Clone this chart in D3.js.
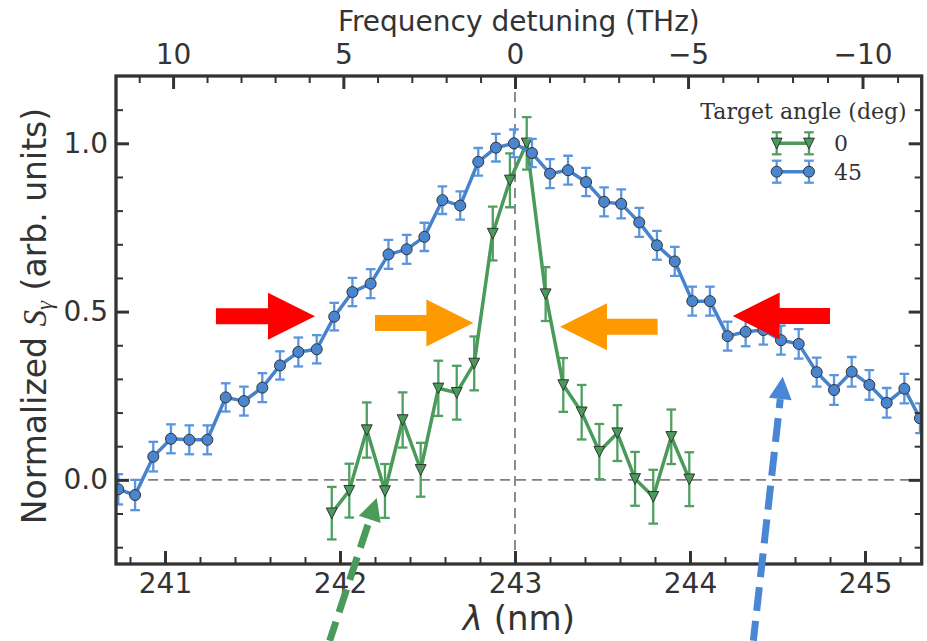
<!DOCTYPE html>
<html>
<head>
<meta charset="utf-8">
<script src="https://cdn.jsdelivr.net/npm/d3@7"></script>
<style>
  body { margin: 0; background: #fff; }
  svg { display: block; }
</style>
</head>
<body>
<svg id="chart" width="927" height="641"></svg>
<script>
// ---- data: normalized signal vs. wavelength for two target angles ----
const seriesLabels = ["0", "45"];
const legendTitle = "Target angle (deg)";

const wavelengthGreen = [241.953, 242.053, 242.153, 242.257, 242.358, 242.461, 242.562,
  242.667, 242.767, 242.873, 242.971, 243.067, 243.175, 243.276, 243.381, 243.482,
  243.585, 243.686, 243.790, 243.893, 243.996];
const signalGreen = [-0.099, -0.032, 0.148, -0.033, 0.178, 0.030, 0.272, 0.259, 0.346,
  0.732, 0.890, 1.000, 0.552, 0.282, 0.201, 0.084, 0.139, 0.003, -0.050, 0.128, 0.002];
const errGreen = [0.078, 0.080, 0.082, 0.080, 0.082, 0.080, 0.082, 0.080, 0.080, 0.080,
  0.080, 0.078, 0.080, 0.080, 0.081, 0.082, 0.083, 0.080, 0.080, 0.081, 0.080];

const wavelengthBlue = [240.733, 240.829, 240.933, 241.034, 241.139, 241.242, 241.347,
  241.451, 241.556, 241.657, 241.762, 241.867, 241.967, 242.071, 242.175, 242.277,
  242.381, 242.482, 242.585, 242.687, 242.790, 242.891, 242.994, 243.097, 243.200,
  243.303, 243.406, 243.509, 243.607, 243.710, 243.811, 243.913, 244.013, 244.114,
  244.215, 244.318, 244.419, 244.520, 244.621, 244.724, 244.823, 244.924, 245.025,
  245.124, 245.225, 245.314];
const signalBlue = [-0.028, -0.045, 0.069, 0.122, 0.119, 0.119, 0.245, 0.234, 0.274,
  0.340, 0.380, 0.388, 0.485, 0.558, 0.583, 0.670, 0.685, 0.722, 0.831, 0.815, 0.945,
  0.987, 1.000, 0.971, 0.910, 0.920, 0.885, 0.826, 0.820, 0.765, 0.697, 0.649, 0.531,
  0.531, 0.427, 0.440, 0.445, 0.415, 0.404, 0.320, 0.267, 0.321, 0.282, 0.229, 0.271,
  0.183];
const errBlue = [0.045, 0.045, 0.044, 0.043, 0.043, 0.043, 0.042, 0.043, 0.043, 0.042,
  0.043, 0.042, 0.041, 0.042, 0.043, 0.043, 0.043, 0.042, 0.041, 0.042, 0.041, 0.041,
  0.041, 0.042, 0.043, 0.043, 0.042, 0.043, 0.043, 0.043, 0.043, 0.043, 0.043, 0.043,
  0.043, 0.043, 0.043, 0.043, 0.044, 0.043, 0.044, 0.044, 0.044, 0.044, 0.044, 0.044];

// axis ticks
const lambdaTicks = [241, 242, 243, 244, 245];
const detuningTicks = [10, 5, 0, -5, -10];
const signalTicks = [0.0, 0.5, 1.0];

// annotation arrows, in data units (wavelength nm, signal)
const blockArrows = [
  { from: 241.291, to: 241.857, at: 0.486, kind: "wide" },
  { from: 242.200, to: 242.762, at: 0.466, kind: "narrow" },
  { from: 243.815, to: 243.257, at: 0.455, kind: "narrow" },
  { from: 244.800, to: 244.244, at: 0.487, kind: "wide" }
];
const pointerArrows = [
  { tail: [241.941, -0.478], tip: [242.210, -0.054], kind: "0" },
  { tail: [244.362, -0.478], tip: [244.530, 0.3065], kind: "45" }
];

// ---- layout / styles ----
const W = 927, H = 641;
const frame = { left: 116, right: 921.7, top: 76, bottom: 564 };
const ink = "#333";
const palette = {
  "0":  { line: "#4a9a5a", err: "#4f9f60", marker: "#4a9a5a" },
  "45": { line: "#4783cd", err: "#5a95dd", marker: "#4a86cf" }
};
const arrowColors = { wide: "#ff0000", narrow: "#ff9900" };
const pointerColors = { "0": "#4a9a5a", "45": "#4a86d6" };

const C = 299792.458;          // speed of light, nm*THz
const lambda0 = 243;           // reference wavelength for the detuning axis
const toLambda = df => C / (C / lambda0 + df);

const x = d3.scaleLinear().domain([240.72, 245.324]).range([frame.left, frame.right]);
const y = d3.scaleLinear().domain([-0.25, 1.2]).range([frame.bottom, frame.top]);

const svg = d3.select("#chart");
svg.append("rect").attr("width", W).attr("height", H).attr("fill", "#fff");

svg.append("defs").append("clipPath").attr("id", "plotArea")
  .append("rect")
  .attr("x", frame.left).attr("y", frame.top)
  .attr("width", frame.right - frame.left).attr("height", frame.bottom - frame.top);

// ---- dashed reference lines ----
const refs = svg.append("g").attr("stroke", "#808080").attr("stroke-width", 1.8)
  .attr("stroke-dasharray", "10,6");
refs.append("line").attr("x1", frame.left).attr("x2", frame.right)
  .attr("y1", y(0)).attr("y2", y(0));
refs.append("line").attr("x1", x(lambda0)).attr("x2", x(lambda0))
  .attr("y1", frame.top).attr("y2", frame.bottom);

// ---- series ----
const trianglePath = "M-5.4,-5.2 L5.4,-5.2 L0,5.6 Z";

function drawMarker(g, px, py, key) {
  const c = palette[key];
  if (key === "0") {
    g.append("path").attr("d", trianglePath)
      .attr("transform", `translate(${px},${py})`)
      .attr("fill", c.marker).attr("stroke", ink).attr("stroke-width", 1);
  } else {
    g.append("circle").attr("cx", px).attr("cy", py).attr("r", 5.5)
      .attr("fill", c.marker).attr("stroke", ink).attr("stroke-width", 1);
  }
}

function drawErrorBar(g, px, yLo, yHi, key) {
  const c = palette[key];
  const bar = g.append("g").attr("stroke", c.err).attr("stroke-width", 2.3);
  bar.append("line").attr("x1", px).attr("x2", px).attr("y1", yLo).attr("y2", yHi);
  bar.append("line").attr("x1", px - 4.8).attr("x2", px + 4.8).attr("y1", yLo).attr("y2", yLo);
  bar.append("line").attr("x1", px - 4.8).attr("x2", px + 4.8).attr("y1", yHi).attr("y2", yHi);
}

function drawSeries(xs, ys, es, key) {
  const pts = xs.map((d, i) => ({ x: d, y: ys[i], e: es[i] }));
  const g = svg.append("g").attr("clip-path", "url(#plotArea)");
  pts.forEach(p => drawErrorBar(g, x(p.x), y(p.y - p.e), y(p.y + p.e), key));
  g.append("path").datum(pts)
    .attr("d", d3.line().x(p => x(p.x)).y(p => y(p.y)))
    .attr("fill", "none").attr("stroke", palette[key].line)
    .attr("stroke-width", 3.5).attr("stroke-linejoin", "round");
  pts.forEach(p => drawMarker(g, x(p.x), y(p.y), key));
}

drawSeries(wavelengthGreen, signalGreen, errGreen, "0");
drawSeries(wavelengthBlue, signalBlue, errBlue, "45");

// ---- axes ----
const fmt1 = d3.format(".1f");
const fmtInt = d3.format("d");

function styleAxis(g, width) {
  g.select(".domain").remove();
  g.selectAll(".tick line").attr("stroke", ink).attr("stroke-width", width);
  g.selectAll(".tick text").attr("fill", ink)
    .attr("font-family", "DejaVu Sans").attr("font-size", 28);
}

const minorSignal = d3.range(-2, 12).filter(k => k % 5 !== 0).map(k => k / 10);
const minorLambda = d3.range(1204, 1227).filter(k => k % 5 !== 0).map(k => k / 5);
const minorDetuning = d3.range(-11, 12).filter(k => k % 5 !== 0).map(toLambda);

// left
svg.append("g").attr("transform", `translate(${frame.left},0)`)
  .call(d3.axisLeft(y).tickValues(minorSignal).tickSize(-7).tickFormat(""))
  .call(g => styleAxis(g, 2));
svg.append("g").attr("transform", `translate(${frame.left},0)`)
  .call(d3.axisLeft(y).tickValues(signalTicks).tickSize(-13).tickPadding(8).tickFormat(fmt1))
  .call(g => styleAxis(g, 3));
// right (mirrored ticks)
svg.append("g").attr("transform", `translate(${frame.right},0)`)
  .call(d3.axisRight(y).tickValues(minorSignal).tickSize(-7).tickFormat(""))
  .call(g => styleAxis(g, 2));
svg.append("g").attr("transform", `translate(${frame.right},0)`)
  .call(d3.axisRight(y).tickValues(signalTicks).tickSize(-13).tickFormat(""))
  .call(g => styleAxis(g, 3));
// bottom: wavelength
svg.append("g").attr("transform", `translate(0,${frame.bottom})`)
  .call(d3.axisBottom(x).tickValues(minorLambda).tickSize(-7).tickFormat(""))
  .call(g => styleAxis(g, 2));
svg.append("g").attr("transform", `translate(0,${frame.bottom})`)
  .call(d3.axisBottom(x).tickValues(lambdaTicks).tickSize(-13).tickPadding(9).tickFormat(fmtInt))
  .call(g => styleAxis(g, 3));
// top: frequency detuning
svg.append("g").attr("transform", `translate(0,${frame.top})`)
  .call(d3.axisTop(x).tickValues(minorDetuning).tickSize(-7).tickFormat(""))
  .call(g => styleAxis(g, 2));
svg.append("g").attr("transform", `translate(0,${frame.top})`)
  .call(d3.axisTop(x).tickValues(detuningTicks.map(toLambda)).tickSize(-13).tickPadding(12)
    .tickFormat((d, i) => fmtInt(detuningTicks[i])))
  .call(g => styleAxis(g, 3));

// frame
svg.append("rect")
  .attr("x", frame.left).attr("y", frame.top)
  .attr("width", frame.right - frame.left).attr("height", frame.bottom - frame.top)
  .attr("fill", "none").attr("stroke", ink).attr("stroke-width", 3.3);

// ---- axis titles ----
const cx = (frame.left + frame.right) / 2;

svg.append("text").attr("x", cx).attr("y", 31).attr("text-anchor", "middle")
  .attr("font-family", "DejaVu Sans").attr("font-size", 28).attr("fill", ink)
  .text("Frequency detuning (THz)");

const xt = svg.append("text").attr("x", cx).attr("y", 630).attr("text-anchor", "middle")
  .attr("font-family", "DejaVu Sans").attr("font-size", 34).attr("fill", ink);
xt.append("tspan").attr("font-style", "italic").text("λ");
xt.append("tspan").text(" (nm)");

const yt = svg.append("text").attr("transform", "translate(46,316) rotate(-90)")
  .attr("text-anchor", "middle")
  .attr("font-family", "DejaVu Sans").attr("font-size", 33).attr("fill", ink);
yt.append("tspan").text("Normalized ");
yt.append("tspan").attr("font-family", "Liberation Serif").attr("font-style", "italic").text("S");
yt.append("tspan").attr("font-family", "Liberation Serif").attr("font-style", "italic")
  .attr("font-size", 23).attr("dy", 6).text("γ");
yt.append("tspan").attr("dy", -6).text(" (arb. units)");

// ---- legend ----
const legend = svg.append("g");
legend.append("text").attr("x", 803.5).attr("y", 119).attr("text-anchor", "middle")
  .attr("font-family", "DejaVu Serif").attr("font-size", 22).attr("fill", ink)
  .text(legendTitle);
seriesLabels.forEach((key, i) => {
  const ly = 143.3 + i * 28.4;
  const xa = 776.7, xb = 809;
  [xa, xb].forEach(px => drawErrorBar(legend, px, ly - 11, ly + 11, key));
  legend.append("line").attr("x1", xa).attr("x2", xb).attr("y1", ly).attr("y2", ly)
    .attr("stroke", palette[key].line).attr("stroke-width", 3.5);
  [xa, xb].forEach(px => drawMarker(legend, px, ly, key));
  legend.append("text").attr("x", 834).attr("y", ly + 8)
    .attr("font-family", "DejaVu Serif").attr("font-size", 22).attr("fill", ink)
    .text(key);
});

// ---- annotation arrows ----
const arrows = svg.append("g");
blockArrows.forEach(a => {
  const X0 = x(a.from), X1 = x(a.to), Y = y(a.at);
  const dir = Math.sign(X1 - X0);
  const headLen = 47, headHalf = 23.5, bodyHalf = 8;
  const Xb = X1 - dir * headLen;
  const d = `M${X0},${Y - bodyHalf} L${Xb},${Y - bodyHalf} L${Xb},${Y - headHalf} L${X1},${Y} ` +
            `L${Xb},${Y + headHalf} L${Xb},${Y + bodyHalf} L${X0},${Y + bodyHalf} Z`;
  arrows.append("path").attr("d", d).attr("fill", arrowColors[a.kind]);
});

pointerArrows.forEach(a => {
  const tx = x(a.tail[0]), ty = y(a.tail[1]);
  const hx = x(a.tip[0]), hy = y(a.tip[1]);
  const len = Math.hypot(hx - tx, hy - ty);
  const ux = (hx - tx) / len, uy = (hy - ty) / len;
  const headLen = 22.5, headHalf = 11.5;
  const bx = hx - ux * headLen, by = hy - uy * headLen;
  const col = pointerColors[a.kind];
  arrows.append("line").attr("x1", tx).attr("y1", ty).attr("x2", bx).attr("y2", by)
    .attr("stroke", col).attr("stroke-width", 7).attr("stroke-dasharray", "24,10")
    .attr("stroke-dashoffset", 4);
  arrows.append("path")
    .attr("d", `M${hx},${hy} L${bx - uy * headHalf},${by + ux * headHalf} L${bx + uy * headHalf},${by - ux * headHalf} Z`)
    .attr("fill", col);
});
</script>
</body>
</html>
